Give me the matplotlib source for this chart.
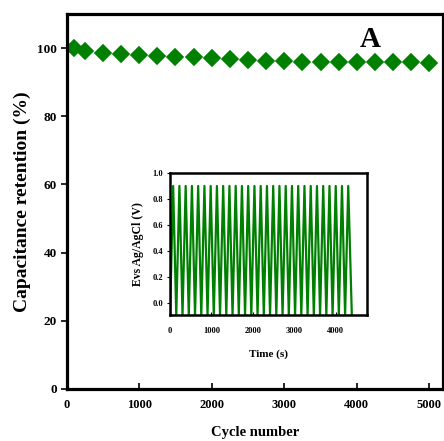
import matplotlib
matplotlib.use("Agg")
import matplotlib.pyplot as plt

plt.rcParams['font.family'] = ['Liberation Serif', 'DejaVu Serif']
plt.rcParams['font.weight'] = 'bold'

# Cycling stability: capacitance retention vs cycle number
cycles = [100, 250, 500, 750, 1000, 1250, 1500, 1750, 2000, 2250, 2500,
          2750, 3000, 3250, 3500, 3750, 4000, 4250, 4500, 4750, 5000]
retention = [100.0, 99.3, 98.6, 98.3, 98.0, 97.8, 97.5, 97.3, 97.0, 96.8, 96.5,
             96.3, 96.2, 96.0, 96.0, 96.0, 96.0, 96.0, 95.9, 95.9, 95.8]

# Galvanostatic charge/discharge turning points (time in s, potential in V)
gcd_time = [0, 75, 150, 226, 301, 377, 452, 528, 603, 679, 754, 830, 905,
            981, 1056, 1132, 1207, 1283, 1358, 1434, 1509, 1585, 1660, 1736,
            1811, 1887, 1962, 2038, 2113, 2189, 2264, 2340, 2415, 2491, 2566,
            2642, 2717, 2793, 2868, 2944, 3019, 3095, 3170, 3246, 3321, 3397,
            3472, 3548, 3623, 3699, 3774, 3850, 3925, 4001, 4076, 4152, 4227,
            4303, 4390]
gcd_potential = [-0.1, 0.9] * 29 + [-0.1]

main_xticks = [0, 1000, 2000, 3000, 4000, 5000]
main_yticks = [0, 20, 40, 60, 80, 100]
inset_xticks = [0, 1000, 2000, 3000, 4000]
inset_yticks = [0.0, 0.2, 0.4, 0.6, 0.8, 1.0]

green = '#008000'

fig = plt.figure(figsize=(4.44, 4.41), dpi=100)
ax = fig.add_axes([0.150, 0.118, 0.848, 0.850])
ax.plot(cycles, retention, linestyle='none', marker='D', markersize=8.2,
        color=green, markeredgecolor=green, markeredgewidth=1.2)
ax.set_xlim(0, 5190)
ax.set_ylim(0, 110)
ax.set_xticks(main_xticks)
ax.set_yticks(main_yticks)
ax.tick_params(axis='x', direction='in', length=4, width=1.2, pad=7, labelsize=9)
ax.tick_params(axis='y', direction='out', length=4, width=1.2, pad=3, labelsize=9.5)
for lab in ax.get_xticklabels() + ax.get_yticklabels():
    lab.set_fontweight('bold')
for sp in ax.spines.values():
    sp.set_linewidth(2.3)
ax.set_xlabel('Cycle number', fontsize=10.5, fontweight='bold', labelpad=11)
ax.set_ylabel('Capacitance retention (%)', fontsize=14, fontweight='bold', labelpad=4)
ax.text(4183, 102.5, 'A', fontsize=21, fontweight='bold', ha='center', va='center')

ins = fig.add_axes([0.383, 0.2846, 0.443, 0.3231])
ins.plot(gcd_time, gcd_potential, color=green, linewidth=1.6)
ins.set_xlim(0, 4750)
ins.set_ylim(-0.1, 1.0)
ins.set_xticks(inset_xticks)
ins.set_yticks(inset_yticks)
ins.set_yticklabels([f'{v:.1f}' for v in inset_yticks])
ins.tick_params(axis='x', direction='in', length=2.5, width=0.8, pad=8, labelsize=6)
ins.tick_params(axis='y', direction='out', length=2, width=0.8, pad=3, labelsize=6)
for lab in ins.get_xticklabels() + ins.get_yticklabels():
    lab.set_fontweight('bold')
for sp in ins.spines.values():
    sp.set_linewidth(1.8)
ins.set_xlabel('Time (s)', fontsize=8, fontweight='bold', labelpad=11)
ins.set_ylabel('Evs Ag/AgCl (V)', fontsize=8.5, fontweight='bold', labelpad=6)

fig.savefig('out.png', dpi=100)
